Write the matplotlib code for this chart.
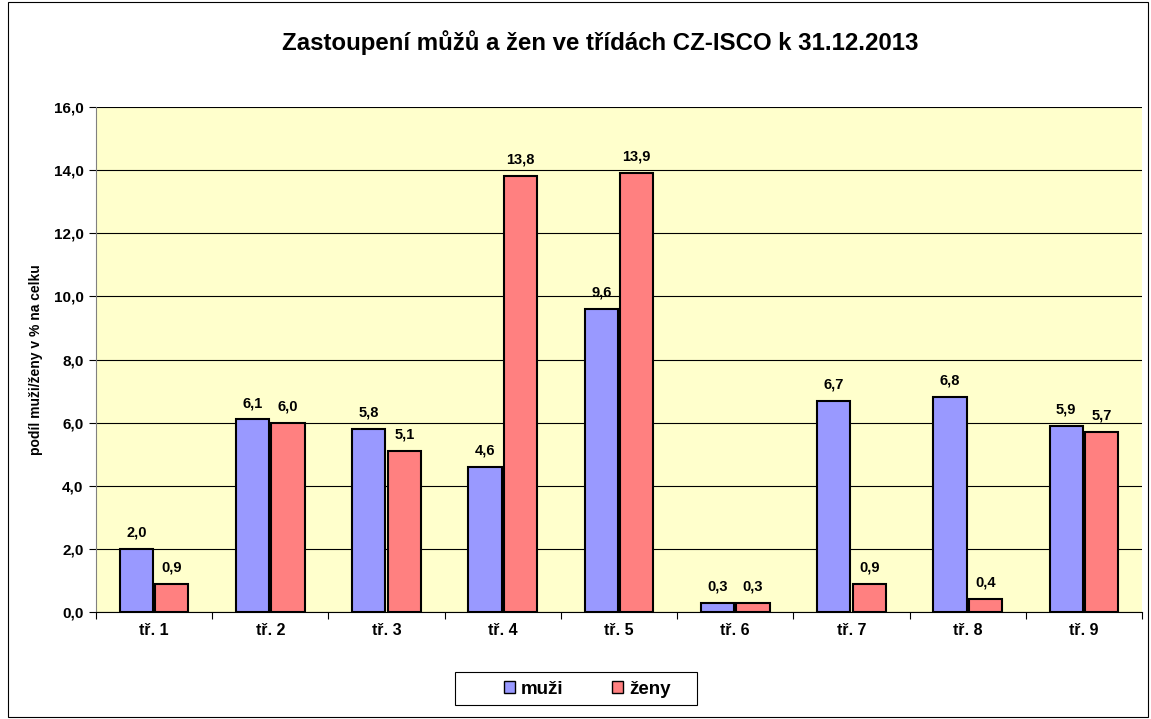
import numpy as np
import matplotlib.pyplot as plt
from matplotlib.patches import Rectangle

plt.rcParams['font.family'] = ['Liberation Sans', 'DejaVu Sans']
plt.rcParams['font.weight'] = 'bold'

kategorie = ['tř. 1', 'tř. 2', 'tř. 3', 'tř. 4', 'tř. 5', 'tř. 6', 'tř. 7', 'tř. 8', 'tř. 9']
muzi = [2.0, 6.1, 5.8, 4.6, 9.6, 0.3, 6.7, 6.8, 5.9]
zeny = [0.9, 6.0, 5.1, 13.8, 13.9, 0.3, 0.9, 0.4, 5.7]

fig = plt.figure(figsize=(11.51, 7.19), dpi=100)
ax = fig.add_axes([96 / 1151, 1 - 612 / 719, 1046 / 1151, 505 / 719])
ax.set_facecolor('#FFFFCC')

x = np.arange(len(kategorie))
w = 0.285
b1 = ax.bar(x - w / 2 - 0.01, muzi, w, color='#9999FF', edgecolor='black', linewidth=1.5, label='muži', zorder=3)
b2 = ax.bar(x + w / 2 + 0.01, zeny, w, color='#FF8080', edgecolor='black', linewidth=1.5, label='ženy', zorder=3)

for bars, vals in ((b1, muzi), (b2, zeny)):
    for r, v in zip(bars, vals):
        ax.text(r.get_x() + r.get_width() / 2, v + 0.3, f'{v:.1f}'.replace('.', ','),
                ha='center', va='bottom', fontsize=10.5, fontweight='bold')

ax.set_xlim(-0.5, len(kategorie) - 0.5)
ax.set_ylim(0, 16)
ax.set_yticks(np.arange(0, 17, 2))
ax.set_yticklabels([f'{t:.1f}'.replace('.', ',') for t in np.arange(0, 17, 2)], fontsize=11, fontweight='bold')
ax.yaxis.grid(True, color='black', linewidth=0.8, zorder=0)
ax.set_axisbelow(True)

ax.set_xticks(np.arange(-0.5, len(kategorie), 1))
ax.set_xticklabels([])
ax.set_xticks(x, minor=True)
ax.set_xticklabels(kategorie, minor=True, fontsize=11.5, fontweight='bold')
ax.tick_params(axis='x', which='minor', length=0, pad=8)
ax.tick_params(axis='x', which='major', length=5, direction='out')
ax.tick_params(axis='y', length=5, direction='out', pad=4)

for s in ['top', 'right']:
    ax.spines[s].set_visible(False)
ax.spines['left'].set_color('#808080')
ax.spines['bottom'].set_color('black')

ax.set_ylabel('podíl muži/ženy v % na celku', fontsize=10, fontweight='bold', labelpad=8)

fig.text(600 / 1151, 1 - 43 / 719, 'Zastoupení můžů a žen ve třídách CZ-ISCO k 31.12.2013',
         ha='center', va='center', fontsize=17.3, fontweight='bold')

# legenda: ramecek zvlast, polozky bez ramecku
fig.patches.append(Rectangle((455 / 1151, 1 - 705 / 719), 242 / 1151, 33 / 719, transform=fig.transFigure,
                             facecolor='white', edgecolor='black', linewidth=0.8))
leg = fig.legend(handles=[b1, b2], labels=['muži', 'ženy'], loc='center', ncol=2,
                 bbox_to_anchor=(587 / 1151, 1 - 689 / 719), frameon=False,
                 fontsize=13.5, handlelength=0.6, handleheight=0.6,
                 handletextpad=0.3, columnspacing=2.6, borderpad=0, borderaxespad=0)
for t in leg.get_texts():
    t.set_fontweight('bold')
for h in leg.legend_handles:
    h.set_linewidth(1.0)

fig.patches.append(Rectangle((8 / 1151, 2 / 719), 1140 / 1151, 715 / 719, transform=fig.transFigure,
                             fill=False, edgecolor='black', linewidth=0.8))

fig.savefig('out.png', dpi=100)
